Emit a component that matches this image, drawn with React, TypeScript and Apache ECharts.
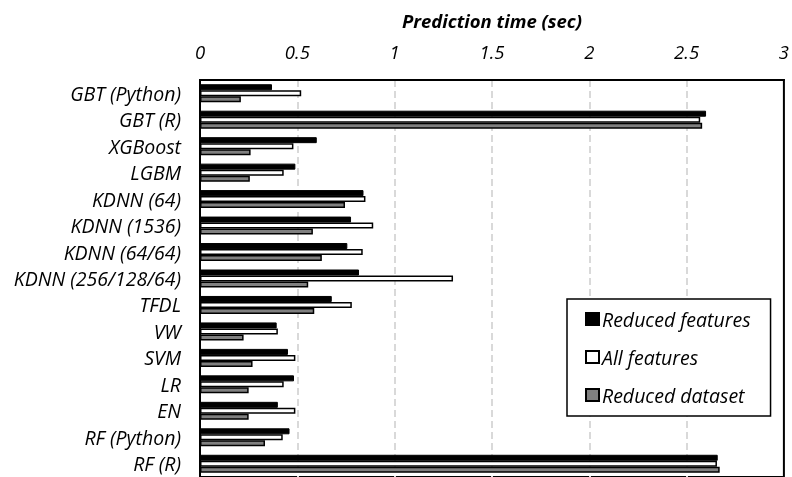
import React, { useEffect, useRef } from "react";
import * as echarts from "echarts";

const categories = [
  "GBT (Python)", "GBT (R)", "XGBoost", "LGBM", "KDNN (64)", "KDNN (1536)",
  "KDNN (64/64)", "KDNN (256/128/64)", "TFDL", "VW", "SVM", "LR", "EN",
  "RF (Python)", "RF (R)",
];
const reducedFeatures = [0.37, 2.6, 0.6, 0.49, 0.84, 0.776, 0.757, 0.817, 0.677, 0.394, 0.452, 0.483, 0.4, 0.46, 2.66];
const allFeatures = [0.52, 2.57, 0.48, 0.43, 0.85, 0.89, 0.836, 1.3, 0.78, 0.4, 0.49, 0.43, 0.49, 0.425, 2.656];
const reducedDataset = [0.21, 2.58, 0.26, 0.256, 0.745, 0.58, 0.626, 0.556, 0.587, 0.224, 0.27, 0.25, 0.25, 0.334, 2.67];

const FONT = "Open Sans";

export default function App() {
  const ref = useRef<HTMLDivElement>(null);
  useEffect(() => {
    if (!ref.current) return;
    const chart = echarts.init(ref.current, null, { renderer: "svg" });
    const barBase = { type: "bar" as const, barWidth: 6, barGap: "0%" };
    chart.setOption({
      animation: false,
      grid: { left: 200, top: 80, width: 586, height: 398, show: true, borderColor: "#000", borderWidth: 2, backgroundColor: "transparent" },
      legend: {
        orient: "vertical",
        left: 567,
        top: 299,
        padding: [10, 20, 11, 18],
        itemGap: 18,
        itemWidth: 13,
        itemHeight: 12,
        borderColor: "#000",
        borderWidth: 1.5,
        backgroundColor: "#fff",
        icon: "rect",
        textStyle: { fontFamily: FONT, fontStyle: "italic", fontSize: 19.5, color: "#000", padding: [0, 0, 0, -2] },
        data: ["Reduced features", "All features", "Reduced dataset"],
      },
      xAxis: {
        type: "value",
        position: "top",
        min: 0,
        max: 3,
        interval: 0.5,
        name: "Prediction time (sec)",
        nameLocation: "middle",
        nameGap: 50,
        nameTextStyle: { fontFamily: FONT, fontStyle: "italic", fontWeight: "bold", fontSize: 18.5, color: "#000" },
        axisLine: { show: true, lineStyle: { color: "#000", width: 2 } },
        axisTick: { show: false },
        axisLabel: { fontFamily: FONT, fontStyle: "italic", fontSize: 18.5, color: "#000", margin: 19 },
        splitLine: { show: true, showMinLine: false, showMaxLine: false, lineStyle: { color: "#d9d9d9", width: 2, type: [7, 4] } },
      },
      yAxis: {
        type: "category",
        inverse: true,
        data: categories,
        axisLine: { show: true, lineStyle: { color: "#000", width: 2 } },
        axisTick: { show: false },
        axisLabel: { fontFamily: FONT, fontStyle: "italic", fontSize: 19.5, color: "#000", margin: 19 },
      },
      series: [
        { ...barBase, name: "Reduced features", data: reducedFeatures, itemStyle: { color: "#000", borderColor: "#000", borderWidth: 1 } },
        { ...barBase, name: "All features", data: allFeatures, itemStyle: { color: "#fff", borderColor: "#000", borderWidth: 1.5 } },
        { ...barBase, name: "Reduced dataset", data: reducedDataset, itemStyle: { color: "#808080", borderColor: "#000", borderWidth: 1.5 } },
      ],
    });
    return () => chart.dispose();
  }, []);
  return <div ref={ref} style={{ position: "fixed", left: 0, top: 0, width: 792, height: 477 }} />;
}
